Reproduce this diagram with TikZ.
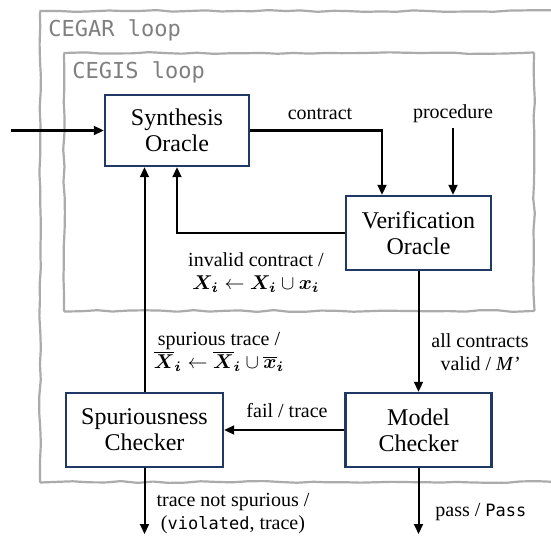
\documentclass[tikz,border=0pt]{standalone}
\usepackage{fontspec}
\setmainfont{Liberation Serif}
\setmonofont{DejaVu Sans Mono}
\usepackage{bm}
\usetikzlibrary{arrows.meta,decorations.pathmorphing}
\definecolor{boxblue}{HTML}{1F3864}
\definecolor{loopgray}{HTML}{ABABAB}
\definecolor{looptext}{HTML}{7F7F7F}
\begin{document}
\begin{tikzpicture}[x=.5pt,y=-.5pt,
	blk/.style={draw=boxblue,line width=1.2pt,align=center,font=\fontsize{12}{13}\selectfont,inner sep=0pt},
	arr/.style={-{Triangle[length=5pt,width=4.5pt]},line width=1pt},
	lbl/.style={align=center,font=\fontsize{10}{11.5}\selectfont,inner sep=0pt},
	loopbox/.style={draw=loopgray,line width=1.1pt,decorate,decoration={random steps,segment length=8pt,amplitude=.45pt},rounded corners=.5pt},
	looplbl/.style={anchor=west,text=looptext,font=\ttfamily\fontsize{11}{12}\selectfont,inner sep=0pt}]
			\useasboundingbox (0,0) rectangle (551,535);
			\clip (0,0) rectangle (551,535);
			\pgfmathsetseed{7}
			% loops
			\draw[loopbox] (40,11) rectangle (558,482);
			\draw[loopbox] (64,53) rectangle (534,311);
			\node[looplbl] (cegar) at (48,30) {CEGAR loop};
			\node[looplbl] (cegis) at (72,72) {CEGIS loop};
			% boxes
			\node[blk,minimum width=72pt,minimum height=35.5pt] (syn) at (177,130.5) {Synthesis\\Oracle};
			\node[blk,minimum width=72.5pt,minimum height=37pt] (ver) at (418.5,233) {Verification\\Oracle};
			\node[blk,minimum width=78.5pt,minimum height=37pt] (spu) at (144.5,430) {Spuriousness\\Checker};
			\node[blk,minimum width=73pt,minimum height=37pt] (mod) at (418.5,430) {Model\\Checker};
			\coordinate (start) at (11,130.5);
			\coordinate (proc) at (453,128);
			\coordinate (cex) at (144.5,534);
			\coordinate (ok) at (418.5,534);
			% arrows
			\draw[arr] (start) -- (syn.west);
			\draw[arr] (syn.east) -| ([xshift=-18.25pt]ver.north);
			\draw[arr] (proc) -- (proc |- ver.north);
			\draw[arr] (ver.west) -| (syn.south);
			\draw[arr] (spu.north) -- (spu.north |- syn.south);
			\draw[arr] (ver.south) -- (mod.north);
			\draw[arr] (mod.west) -- (spu.east);
			\draw[arr] (spu.south) -- (cex);
			\draw[arr] (mod.south) -- (ok);
			% labels
			\node[lbl] (contractlbl) at (320,114) {contract};
			\node[lbl] (proclbl) at (453,114) {procedure};
			\node[lbl] (invalidlbl) at (256,273) {invalid contract /\\$\bm{X_i}\leftarrow\bm{X_i}\cup\bm{x_i}$};
			\node[lbl] (spurlbl) at (219,352) {spurious trace /\\$\overline{\bm{X}}_{\bm{i}}\leftarrow\overline{\bm{X}}_{\bm{i}}\cup\overline{\bm{x}}_{\bm{i}}$};
			\node[lbl] (validlbl) at (480,352) {all contracts\\valid / \textit{M'}};
			\node[lbl] (faillbl) at (287,411) {fail / trace};
			\node[lbl] (notspurlbl) at (233,514) {trace not spurious /\\(\texttt{\fontsize{8.5}{10}\selectfont violated}, trace)};
			\node[lbl,anchor=west] (passlbl) at (435,512) {pass / \texttt{\fontsize{8.5}{10}\selectfont Pass}};
\end{tikzpicture}
\end{document}
